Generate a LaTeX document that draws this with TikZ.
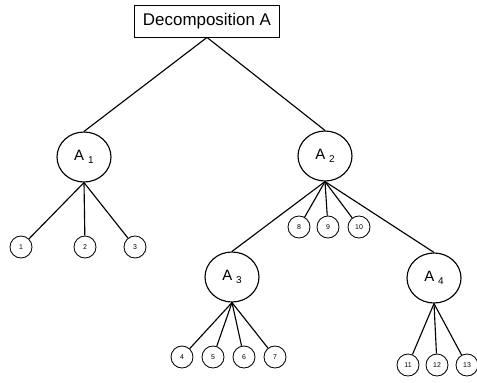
\documentclass[tikz,border=0pt]{standalone}
\usepackage{fontspec}
\setmainfont{Liberation Sans}
\usetikzlibrary{shapes.geometric}
\tikzset{
	bignode/.style={draw, ellipse, line width=0.4mm, minimum width=54bp, minimum height=50bp, inner sep=0pt, font=\fontsize{15}{15}\selectfont},
	leaf/.style={draw, circle, line width=0.3mm, minimum size=22bp, inner sep=0pt, font=\fontsize{7}{7}\selectfont},
	link/.style={line width=0.4mm}
}
\newcommand{\sub}[1]{A\hspace{4bp}\raisebox{-2.5bp}{\fontsize{10}{10}\selectfont #1}}

\begin{document}
\begin{tikzpicture}[x=1bp, y=-1bp]
		%%%%% START %%%%%
		\useasboundingbox (0, 0) rectangle (477, 382);
		
		\node[draw, line width=0.3mm, minimum width=145bp, minimum height=32bp, inner sep=0pt, font=\fontsize{17}{17}\selectfont] (top) at (207, 21) {Decomposition A};
		
		\node[bignode] (A1) at (84, 157) {\sub{1}};
		\node[bignode] (A2) at (325, 156) {\sub{2}};
		\node[bignode] (A3) at (232, 277) {\sub{3}};
		\node[bignode] (A4) at (434, 278) {\sub{4}};
		
		\node[leaf] (l1) at (21, 247) {1};
		\node[leaf] (l2) at (85, 247) {2};
		\node[leaf] (l3) at (135, 247) {3};
		
		\node[leaf] (l8) at (299, 227) {8};
		\node[leaf] (l9) at (328, 227) {9};
		\node[leaf] (l10) at (359, 227) {10};
		
		\node[leaf] (l4) at (182, 357) {4};
		\node[leaf] (l5) at (213, 357) {5};
		\node[leaf] (l6) at (244, 357) {6};
		\node[leaf] (l7) at (275, 357) {7};
		
		\node[leaf] (l11) at (408, 365) {11};
		\node[leaf] (l12) at (437, 365) {12};
		\node[leaf] (l13) at (467, 365) {13};
		
		\draw[link] (top.south) -- (A1.north);
		\draw[link] (top.south) -- (A2.north);
		
		\foreach \l in {l1, l2, l3}
			\draw[link] (A1.south) -- (\l);
		\foreach \l in {l8, l9, l10}
			\draw[link] (A2.south) -- (\l);
		\draw[link] (A2.south) -- (A3.north);
		\draw[link] (A2.south) -- (A4.north);
		\foreach \l in {l4, l5, l6, l7}
			\draw[link] (A3.south) -- (\l);
		\foreach \l in {l11, l12, l13}
			\draw[link] (A4.south) -- (\l);
		%%%%% END %%%%%
	\end{tikzpicture}
\end{document}
